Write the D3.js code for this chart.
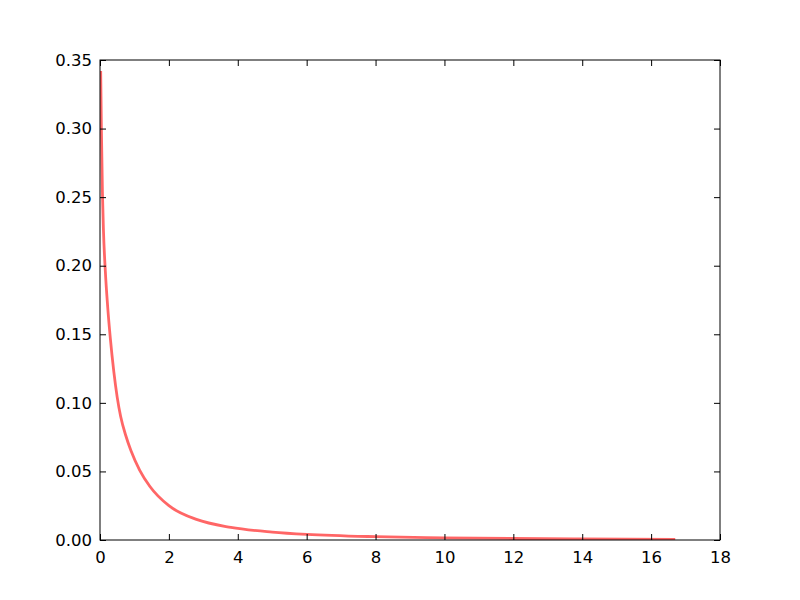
<!DOCTYPE html>
<html>
<head>
<meta charset="utf-8">
<script src="https://cdn.jsdelivr.net/npm/d3@7"></script>
<style>
  body { margin: 0; background: #fff; }
  svg text { font-family: "DejaVu Sans", sans-serif; font-size: 16.5px; fill: #000; }
</style>
</head>
<body>
<div id="chart"></div>
<script>
// values
var xVals = [0.02, 0.04, 0.07, 0.10, 0.155, 0.22, 0.30, 0.40, 0.50, 0.60, 0.75, 0.90, 1.15, 1.45, 2.0, 2.8, 3.8, 5.0, 6.0, 8.0, 10, 12, 14, 16.7];
var yVals = [0.342, 0.300, 0.254, 0.226, 0.196, 0.171, 0.147, 0.123, 0.104, 0.090, 0.076, 0.065, 0.051, 0.039, 0.025, 0.0150, 0.0092, 0.0058, 0.0041, 0.0024, 0.0016, 0.0011, 0.0008, 0.0005];
var xTicks = [0, 2, 4, 6, 8, 10, 12, 14, 16, 18];
var yTicks = [0, 0.05, 0.10, 0.15, 0.20, 0.25, 0.30, 0.35];

var margin = { top: 60, right: 80, bottom: 60, left: 100 },
  width = 800 - margin.left - margin.right,
  height = 600 - margin.top - margin.bottom;

var svg = d3
  .select("#chart")
  .append("svg")
  .attr("width", 800)
  .attr("height", 600)
  .append("g")
  .attr("transform", "translate(" + margin.left + "," + margin.top + ")");

var x = d3.scaleLinear().domain([0, 18]).range([0, width]);
var y = d3.scaleLinear().domain([0, 0.35]).range([height, 0]);

var data = xVals.map(function (d, i) {
  return [d, yVals[i]];
});

svg.append("clipPath").attr("id", "clip")
  .append("rect").attr("width", width).attr("height", height);

svg
  .append("path")
  .datum(data)
  .attr("clip-path", "url(#clip)")
  .attr("d", d3.line()
    .curve(d3.curveMonotoneX)
    .x(function (d) { return x(d[0]); })
    .y(function (d) { return y(d[1]); }))
  .style("fill", "none")
  .style("stroke", "#ff0000")
  .style("stroke-opacity", 0.6)
  .style("stroke-width", 2.8);

// axes, ticks pointing inward on all four sides
function styleAxis(g) {
  g.select(".domain").remove();
  g.selectAll(".tick line").attr("stroke", "#000").attr("stroke-width", 1);
  g.selectAll(".tick text").style("font-family", "DejaVu Sans, sans-serif").style("font-size", "16.5px");
}

svg.append("g")
  .attr("transform", "translate(0," + height + ")")
  .call(d3.axisBottom(x).tickValues(xTicks).tickSize(-6).tickPadding(11).tickFormat(d3.format("d")))
  .call(styleAxis);

svg.append("g")
  .call(d3.axisTop(x).tickValues(xTicks).tickSize(-6).tickFormat(""))
  .call(styleAxis);

svg.append("g")
  .call(d3.axisLeft(y).tickValues(yTicks).tickSize(-6).tickPadding(8).tickFormat(d3.format(".2f")))
  .call(styleAxis);

svg.append("g")
  .attr("transform", "translate(" + width + ",0)")
  .call(d3.axisRight(y).tickValues(yTicks).tickSize(-6).tickFormat(""))
  .call(styleAxis);

svg.append("rect")
  .attr("width", width)
  .attr("height", height)
  .style("fill", "none")
  .style("stroke", "#000")
  .style("stroke-width", 1);
</script>
</body>
</html>
